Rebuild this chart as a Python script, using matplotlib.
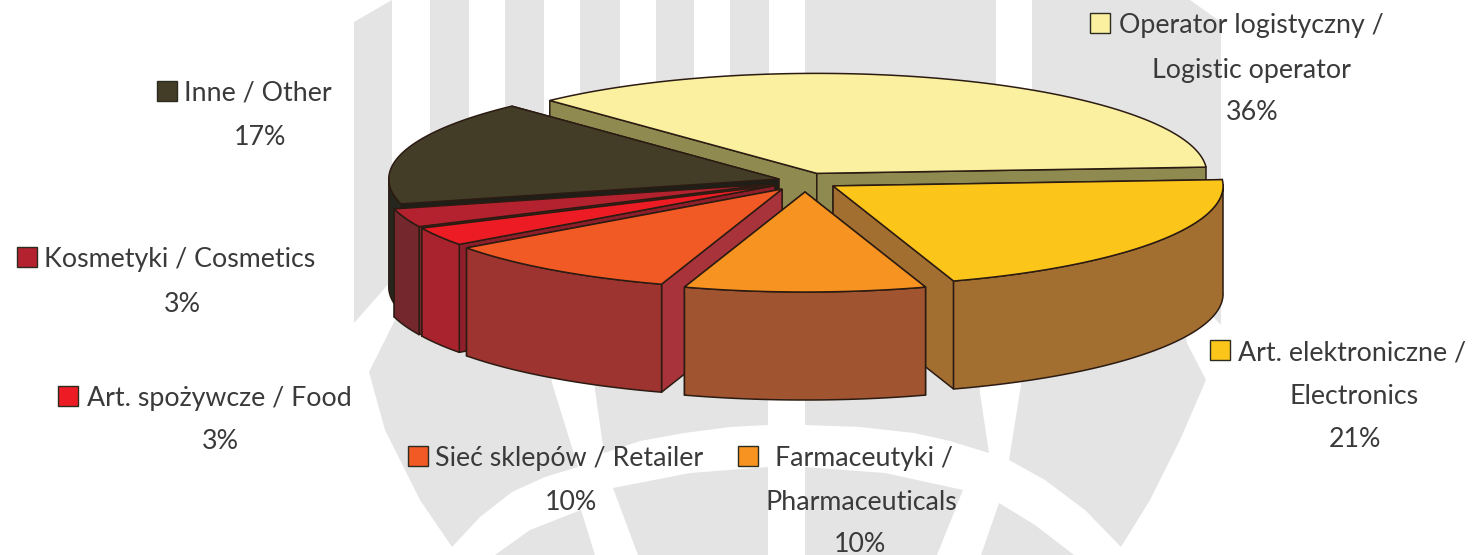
import numpy as np
import matplotlib
matplotlib.use('Agg')
import matplotlib.pyplot as plt
from matplotlib.patches import Polygon, Rectangle

plt.rcParams['font.family'] = ['Lato', 'DejaVu Sans']

# dane wykresu, od operatora zgodnie z ruchem wskazowek
names = ['Operator', 'Electronics', 'Pharmaceuticals', 'Retailer', 'Food', 'Cosmetics', 'Other']
values = [36, 21, 10, 10, 3, 3, 17]
explode = [0.082, 0.087, 0.11, 0.10, 0.09, 0.09, 0.07]
top_colors = ['#FAF0A0', '#FCC51A', '#F79320', '#F15A24', '#ED1C24', '#B5222F', '#433D27']
side_colors = ['#8F8B50', '#A36F30', '#A05530', '#9E3430', '#A8232E', '#74282E', '#25261E']
cut_colors = ['#8F8B50', '#A36F30', '#A05530', '#A8333A', '#8E1F2A', '#74282E', '#1E1F18']

# opisy
label_text = ['Operator logistyczny /', 'Inne / Other', 'Kosmetyki / Cosmetics', 'Art. spożywcze / Food',
              'Sieć sklepów / Retailer', 'Farmaceutyki /', 'Art. elektroniczne /']
label_color = ['#FAF0A0', '#433D27', '#B5222F', '#ED1C24', '#F15A24', '#F79320', '#FCC51A']
label_x = [1119, 184, 44, 87, 435, 775, 1238]
label_y = [33, 101, 267, 406, 466, 466, 360]
swatch_x = [1090, 157, 17, 58, 408, 738, 1210]
extra_text = ['Logistic operator', '36%', '17%', '3%', '3%', '10%', 'Pharmaceuticals', '10%', 'Electronics', '21%']
extra_x = [1251, 1252, 260, 182, 220, 571, 861, 860, 1354, 1355]
extra_y = [78, 120, 145, 312, 449, 510, 510, 552, 404, 447]

# znak wodny w tle
watermark = [
    [(354, 22), (392, 0), (392, 280), (354, 323)],
    [(430, 0), (469, 0), (469, 300), (430, 300)],
    [(505, 0), (544, 0), (544, 300), (505, 300)],
    [(580, 0), (620, 0), (620, 300), (580, 300)],
    [(656, 0), (694, 0), (694, 300), (656, 300)],
    [(730, 0), (769, 0), (769, 300), (730, 300)],
    [(805, 0), (996, 0), (996, 300), (805, 300)],
    [(1032, 0), (1190, 0), (1221, 22), (1221, 325), (1187, 290), (1032, 290)],
    [(400, 310), (369, 372), (385, 430), (420, 500), (452, 547), (480, 517), (512, 492), (545, 477), (578, 467), (552, 383), (540, 300)],
    [(590, 300), (595, 390), (604, 453), (640, 441), (684, 433), (730, 427), (768, 425), (768, 300)],
    [(805, 300), (805, 425), (860, 427), (914, 433), (950, 441), (989, 453), (980, 393), (975, 300)],
    [(1021, 300), (1021, 385), (1009, 460), (1045, 480), (1085, 510), (1121, 547), (1150, 500), (1180, 440), (1206, 380), (1187, 343), (1180, 300)],
    [(495, 555), (530, 530), (581, 510), (595, 555)],
    [(613, 488), (690, 473), (768, 467), (768, 555), (638, 555)],
    [(805, 467), (885, 473), (963, 490), (937, 555), (805, 555)],
    [(999, 503), (1035, 525), (1074, 555), (981, 555)],
]

center_x, center_y = 805, 181
radius_x, radius_y = 390, 100
depth = 108
start_angle = 133.2


def rim(cx, cy, t):
    return np.column_stack([cx + radius_x * np.cos(t), cy - radius_y * np.sin(t)])


fig = plt.figure(figsize=(14.74, 5.55), dpi=100, facecolor='white')
ax = fig.add_axes([0, 0, 1, 1])
ax.set_xlim(0, 1474)
ax.set_ylim(555, 0)
ax.axis('off')

for shape in watermark:
    ax.add_patch(Polygon(shape, closed=True, facecolor='#E4E4E4', edgecolor='none', zorder=1))

# katy wycinkow
bounds = start_angle - np.cumsum([0] + values) * 3.6
edge = '#2B1B12'
draw_order = [0, 6, 5, 4, 3, 1, 2]

for n, i in enumerate(draw_order):
    a0, a1 = np.radians(bounds[i]), np.radians(bounds[i + 1])
    mid = (a0 + a1) / 2
    cx = center_x + explode[i] * radius_x * np.cos(mid)
    cy = center_y - explode[i] * radius_y * np.sin(mid)
    t = np.linspace(a0, a1, 120)
    arc = rim(cx, cy, t)
    z = 2 + n * 0.1

    # sciany wewnetrzne, najpierw ta dalsza
    for k, p in enumerate(sorted((arc[0], arc[-1]), key=lambda q: q[1])):
        wall = [(cx, cy), p, (p[0], p[1] + depth), (cx, cy + depth)]
        ax.add_patch(Polygon(wall, closed=True, facecolor=cut_colors[i], edgecolor=edge, lw=1.1, zorder=z + k * 0.001))
    # sciana zewnetrzna, tylko z przodu
    front = t[np.sin(t) <= 0.02]
    if len(front):
        f = rim(cx, cy, front)
        outer = np.vstack([f, f[::-1] + [0, depth]])
        ax.add_patch(Polygon(outer, closed=True, facecolor=side_colors[i], edgecolor=edge, lw=1.1, zorder=z + 0.01))
    # wierzch
    top = np.vstack([[cx, cy], arc])
    ax.add_patch(Polygon(top, closed=True, facecolor=top_colors[i], edgecolor=edge, lw=1.1, zorder=z + 0.02))

# legenda
for txt, col, x, y, sx in zip(label_text, label_color, label_x, label_y, swatch_x):
    ax.add_patch(Rectangle((sx, y - 20), 20, 20, facecolor=col, edgecolor='#2B2B20', lw=1, zorder=5))
    ax.text(x, y, txt, fontsize=19.3, color='#3A3A3A', ha='left', va='baseline', zorder=6)
for txt, x, y in zip(extra_text, extra_x, extra_y):
    ax.text(x, y, txt, fontsize=19.3, color='#3A3A3A', ha='center', va='baseline', zorder=6)

fig.savefig('out.png', dpi=100)
plt.close(fig)
